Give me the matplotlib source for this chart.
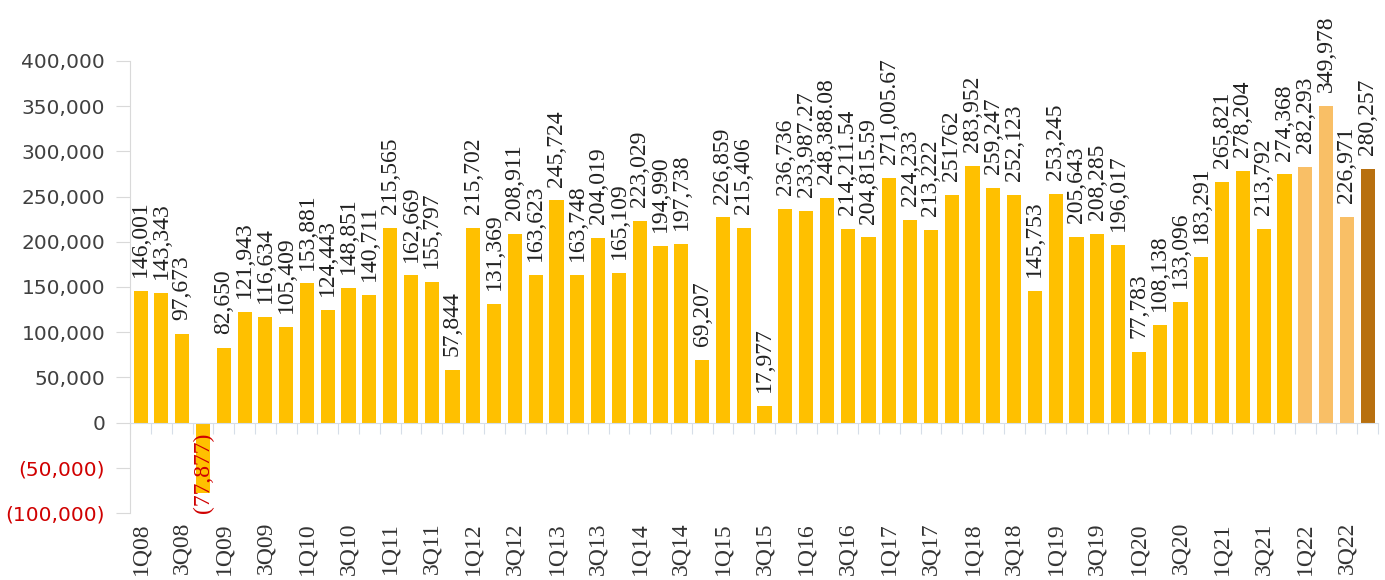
import numpy as np
import matplotlib.pyplot as plt

# quarterly values, 1Q08 .. 4Q22
quarters = [f"{q}Q{y:02d}" for y in range(8, 23) for q in range(1, 5)]

values = [146001, 143343, 97673, -77877,
          82650, 121943, 116634, 105409,
          153881, 124443, 148851, 140711,
          215565, 162669, 155797, 57844,
          215702, 131369, 208911, 163623,
          245724, 163748, 204019, 165109,
          223029, 194990, 197738, 69207,
          226859, 215406, 17977, 236736,
          233987.27, 248388.08, 214211.54, 204815.59,
          271005.67, 224233, 213222, 251762,
          283952, 259247, 252123, 145753,
          253245, 205643, 208285, 196017,
          77783, 108138, 133096, 183291,
          265821, 278204, 213792, 274368,
          282293, 349978, 226971, 280257]

labels = ["146,001", "143,343", "97,673", "(77,877)",
          "82,650", "121,943", "116,634", "105,409",
          "153,881", "124,443", "148,851", "140,711",
          "215,565", "162,669", "155,797", "57,844",
          "215,702", "131,369", "208,911", "163,623",
          "245,724", "163,748", "204,019", "165,109",
          "223,029", "194,990", "197,738", "69,207",
          "226,859", "215,406", "17,977", "236,736",
          "233,987.27", "248,388.08", "214,211.54", "204,815.59",
          "271,005.67", "224,233", "213,222", "251762",
          "283,952", "259,247", "252,123", "145,753",
          "253,245", "205,643", "208,285", "196,017",
          "77,783", "108,138", "133,096", "183,291",
          "265,821", "278,204", "213,792", "274,368",
          "282,293", "349,978", "226,971", "280,257"]

yticks = [-100000, -50000, 0, 50000, 100000, 150000, 200000, 250000, 300000, 350000, 400000]

n = len(values)
colors = ['#FFC000'] * (n - 4) + ['#F9BF66'] * 3 + ['#B8700F']

fig = plt.figure(figsize=(13.85, 5.8), dpi=100)
ax = fig.add_axes([0.094, 0.1155, 0.901, 0.7795])

x = np.arange(n)
ax.bar(x, values, width=0.68, color=colors)
ax.set_xlim(-0.5, n - 0.5)
ax.set_ylim(-100000, 400000)

for s in ['top', 'right']:
    ax.spines[s].set_visible(False)
ax.spines['bottom'].set_position(('data', 0))
ax.spines['bottom'].set_color('#D6DEE8')
ax.spines['left'].set_color('#D9D9D9')

ax.set_xticks(np.arange(-0.5, n, 1))
ax.set_xticklabels([])
ax.tick_params(axis='x', direction='out', length=8, color='#D6DEE8')

ax.set_yticks(yticks)
ylabs = [f"({-v:,})" if v < 0 else f"{v:,}" for v in yticks]
ax.set_yticklabels(ylabs, fontsize=14.5, family='DejaVu Sans')
ax.tick_params(axis='y', direction='out', length=10, color='#D9D9D9', pad=8)
for t, v in zip(ax.get_yticklabels(), yticks):
    t.set_color('#D00000' if v < 0 else '#404040')

# category labels at the bottom, every other quarter
for i in range(0, n, 2):
    ax.text(i, -0.02, quarters[i], transform=ax.get_xaxis_transform(),
            rotation=90, ha='center', va='top', fontsize=17,
            family='Liberation Serif', color='#333333')

# value labels
for i, (v, lab) in enumerate(zip(values, labels)):
    if v < 0:
        ax.annotate(lab, (i, 0), xytext=(0, -7), textcoords='offset points',
                    rotation=90, ha='center', va='top', fontsize=17,
                    family='Liberation Serif', color='#D00000')
    else:
        ax.annotate(lab, (i, v), xytext=(0, 10), textcoords='offset points',
                    rotation=90, ha='center', va='bottom', fontsize=17,
                    family='Liberation Serif', color='#222222')

fig.savefig('out.png', dpi=100)
